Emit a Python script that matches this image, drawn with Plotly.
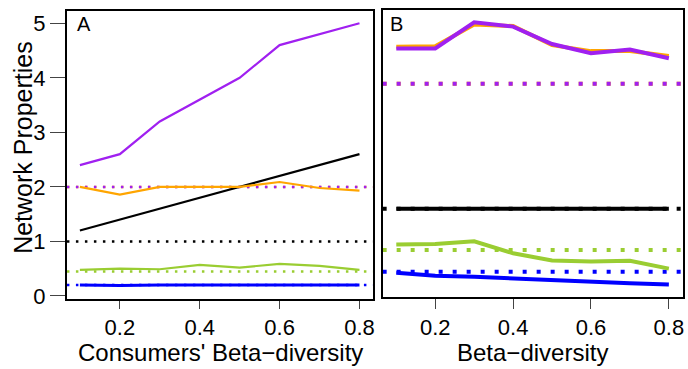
import plotly.graph_objects as go

# ---------------- data ----------------
beta = [0.1, 0.2, 0.3, 0.4, 0.5, 0.6, 0.7, 0.8]

# Panel A (Consumers' beta-diversity)
A_purple = [2.40, 2.60, 3.20, 3.60, 4.00, 4.60, 4.80, 5.00]
A_black = [1.20, 1.40, 1.60, 1.80, 2.00, 2.20, 2.40, 2.60]
A_orange = [2.00, 1.86, 2.00, 2.00, 2.00, 2.09, 1.98, 1.93]
A_green = [0.48, 0.50, 0.49, 0.57, 0.52, 0.59, 0.55, 0.48]
A_blue = [0.20, 0.19, 0.20, 0.20, 0.20, 0.21, 0.20, 0.20]
A_ref = {"black": 1.0, "orange": 2.0, "purple": 2.0, "green": 0.45, "blue": 0.20}

# Panel B (Beta-diversity)
B_orange = [4.55, 4.56, 4.96, 4.93, 4.58, 4.47, 4.47, 4.38]
B_purple = [4.52, 4.52, 5.00, 4.92, 4.60, 4.43, 4.50, 4.34]
B_black = [1.58, 1.58, 1.58, 1.58, 1.58, 1.58, 1.58, 1.58]
B_green = [0.92, 0.93, 0.98, 0.76, 0.63, 0.61, 0.625, 0.48]
B_blue = [0.405, 0.35, 0.33, 0.30, 0.255, 0.227, 0.21, 0.19]
B_ref = {"black": 1.58, "orange": 3.87, "purple": 3.87, "green": 0.82, "blue": 0.42}

x_ticks = [0.2, 0.4, 0.6, 0.8]
y_ticks = [0, 1, 2, 3, 4, 5]

COL = {"purple": "#A020F0", "orange": "#FFA500", "black": "#000000",
       "green": "#9ACD32", "blue": "#0000FF"}

XA = [0.0675, 0.835]
XB = [0.065, 0.836]

fig = go.Figure()


def hline(val, color, xr, xa, ya, width, dash):
    fig.add_trace(go.Scatter(x=xr, y=[val, val], mode="lines", xaxis=xa, yaxis=ya,
                             line=dict(color=color, width=width, dash=dash),
                             showlegend=False, hoverinfo="skip"))


def line(y, color, xa, ya, width):
    fig.add_trace(go.Scatter(x=beta, y=y, mode="lines", xaxis=xa, yaxis=ya,
                             line=dict(color=color, width=width),
                             showlegend=False))


# Panel A
dA = "2.5px,6.5px"
for k in ["black", "orange", "purple", "green", "blue"]:
    hline(A_ref[k], COL[k], XA, "x", "y", 2.5, dA)
line(A_purple, COL["purple"], "x", "y", 2.2)
line(A_black, COL["black"], "x", "y", 2.2)
line(A_orange, COL["orange"], "x", "y", 2.2)
line(A_green, COL["green"], "x", "y", 2.2)
line(A_blue, COL["blue"], "x", "y", 3)

# Panel B
dB = "4px,10px"
for k in ["black", "orange", "purple", "green", "blue"]:
    hline(B_ref[k], COL[k], XB, "x2", "y2", 4, dB)
line(B_orange, COL["orange"], "x2", "y2", 4)
line(B_purple, COL["purple"], "x2", "y2", 4)
line(B_black, COL["black"], "x2", "y2", 4)
line(B_green, COL["green"], "x2", "y2", 4)
line(B_blue, COL["blue"], "x2", "y2", 4)

FONT = "Liberation Sans, Arial, sans-serif"
TICKFONT = dict(family=FONT, size=22, color="black")
ax_common = dict(showgrid=False, zeroline=False, showline=True, linecolor="black",
                 linewidth=2, mirror=True)

fig.update_layout(
    width=688, height=369,
    margin=dict(l=0, r=0, t=0, b=0),
    paper_bgcolor="white", plot_bgcolor="white",
    xaxis=dict(domain=[0.0974, 0.5436], range=XA, tickvals=x_ticks,
               ticktext=[str(v) for v in x_ticks], ticks="outside", ticklen=8,
               tickcolor="#444", tickfont=TICKFONT, anchor="y", **ax_common),
    yaxis=dict(domain=[0.168, 0.970], range=[-0.05, 5.23], tickvals=y_ticks,
               ticks="outside", ticklen=15, tickcolor="#444", tickfont=TICKFONT,
               anchor="x", **ax_common),
    xaxis2=dict(domain=[0.557, 0.994], range=XB, tickvals=x_ticks,
                ticktext=[str(v) for v in x_ticks], ticks="outside", ticklen=10,
                tickcolor="#444", tickfont=TICKFONT, anchor="y2", **ax_common),
    yaxis2=dict(domain=[0.1735, 0.973], range=[-0.036, 5.23], showticklabels=False,
                ticks="", anchor="x2", **ax_common),
)

ann = [
    dict(text="A", x=75, y=25, xanchor="left"),
    dict(text="B", x=389, y=25, xanchor="left"),
]
for a in ann:
    fig.add_annotation(text=a["text"], x=a["x"] / 688, y=1 - a["y"] / 369, xref="paper",
                       yref="paper", xanchor=a["xanchor"], yanchor="middle", showarrow=False,
                       font=dict(family=FONT, size=20, color="black"))

TITLE_Y = -8 / 369
fig.add_annotation(text="Consumers' Beta\u2212diversity", x=221 / 688, y=TITLE_Y,
                   xref="paper", yref="paper", xanchor="center", yanchor="bottom",
                   showarrow=False, font=dict(family=FONT, size=24, color="black"),
                   borderpad=0)
fig.add_annotation(text="Beta\u2212diversity", x=533 / 688, y=TITLE_Y,
                   xref="paper", yref="paper", xanchor="center", yanchor="bottom",
                   showarrow=False, font=dict(family=FONT, size=24, color="black"),
                   borderpad=0)
fig.add_annotation(text="Network Properties", x=23 / 688, y=1 - 151 / 369,
                   xref="paper", yref="paper", xanchor="center", yanchor="middle",
                   textangle=-90, showarrow=False,
                   font=dict(family=FONT, size=25, color="black"))

fig.write_html("out.html")
